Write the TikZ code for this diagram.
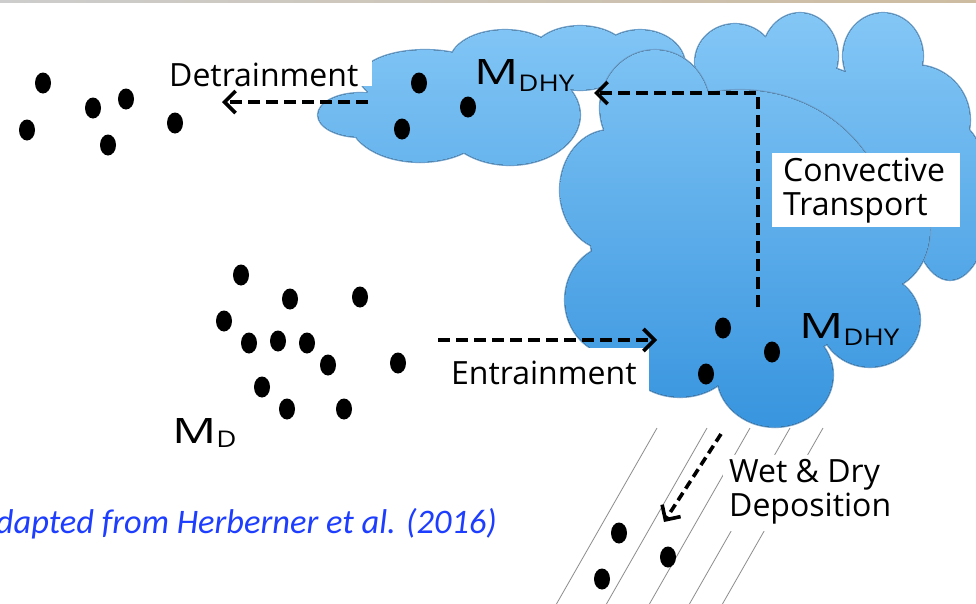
\documentclass[tikz,border=0pt]{standalone}
\usepackage{fontspec}
\setmainfont{Open Sans}
\newfontfamily\capfont{Carlito}
\usetikzlibrary{arrows.meta}

\definecolor{cloudtop}{RGB}{132,199,246}
\definecolor{cloudbot}{RGB}{55,148,222}
\definecolor{cloudline}{RGB}{110,160,205}
\definecolor{raingray}{RGB}{140,140,140}
\definecolor{capblue}{RGB}{30,62,255}

% mass symbol with a lowered subscript
\newcommand\masslabel[2]{{\fontsize{35}{35}\selectfont\scalebox{1.4}[1]{M}}\raisebox{-#1}{\fontsize{23}{23}\selectfont\scalebox{1.2}[1]{#2}}}

\tikzset{
  backcloud/.style={insert path={
    (360,115) ellipse [x radius=42pt, y radius=22pt]
    (420,120) ellipse [x radius=70pt, y radius=42pt]
    (510,115) ellipse [x radius=70pt, y radius=50pt]
    (425,78)  ellipse [x radius=65pt, y radius=28pt]
    (505,62)  ellipse [x radius=55pt, y radius=32pt]
    (580,58)  ellipse [x radius=50pt, y radius=32pt]
    (640,65)  ellipse [x radius=45pt, y radius=35pt]
    (735,62)  ellipse [x radius=40pt, y radius=38pt]
    (800,56)  ellipse [x radius=38pt, y radius=43pt]
    (883,56)  ellipse [x radius=40pt, y radius=43pt]
    (915,120) ellipse [x radius=55pt, y radius=55pt]
    (950,200) ellipse [x radius=40pt, y radius=80pt]
    (780,180) ellipse [x radius=150pt, y radius=120pt]
  }},
  frontcloud/.style={insert path={
    (655,108) ellipse [x radius=55pt, y radius=58pt]
    (610,190) ellipse [x radius=50pt, y radius=60pt]
    (615,300) ellipse [x radius=50pt, y radius=55pt]
    (680,355) ellipse [x radius=55pt, y radius=42pt]
    (775,375) ellipse [x radius=58pt, y radius=52pt]
    (870,320) ellipse [x radius=50pt, y radius=47pt]
    (880,230) ellipse [x radius=50pt, y radius=60pt]
    (740,230) ellipse [x radius=150pt, y radius=140pt]
  }},
  cloudedge/.style={draw=cloudline, line width=2.2pt},
  cloudbody/.style={path picture={
    \fill[top color=cloudtop, bottom color=cloudbot] (0,10) rectangle (976,432);}},
  lbl/.style={font=\fontsize{32}{34}\selectfont, inner sep=0pt, align=left},
  whitebox/.style={fill=white, draw=none, inner sep=0pt},
  flow/.style={line width=3.6pt, dash pattern=on 12pt off 6pt,
    -{Straight Barb[length=11pt, width=22pt]}},
  rain/.style={draw=raingray, line width=0.8pt},
}

\begin{document}
\begin{tikzpicture}[x=1pt, y=-1pt]
  \useasboundingbox (0,0) rectangle (976,603);
  \fill[white] (0,0) rectangle (976,603);
  % thin window strip along the top edge
  \shade[left color={rgb,255:red,205;green,205;blue,205},
         middle color={rgb,255:red,135;green,160;blue,195},
         right color={rgb,255:red,205;green,188;blue,160}] (0,0) rectangle (976,2.5);

  % rain streaks below the cloud
  \draw[rain] (657,428) -- (553,610);
  \draw[rain] (707,428) -- (603,610);
  \draw[rain] (750,428) -- (646,610);
  \draw[rain] (790,428) -- (686,610);
  \draw[rain] (823,428) -- (719,610);

  % anvil and tower of the cloud
  \path[cloudedge, backcloud];
  \path[cloudbody, backcloud];
  % convective core in front
  \path[cloudedge, frontcloud];
  \path[cloudbody, frontcloud];

  % aerosol particles: free troposphere (left, top)
  \foreach \px/\py in {43/83, 27/130, 93/108, 126/99, 108/145, 175/123}
    \fill (\px,\py) ellipse [x radius=8pt, y radius=10.5pt];
  % aerosol particles: boundary layer
  \foreach \px/\py in {241/275, 290/299, 360/297, 224/321, 249/343, 278/341,
                       307/343, 328/365, 398/363, 262/387, 287/409, 344/409}
    \fill (\px,\py) ellipse [x radius=8pt, y radius=10.5pt];
  % particles inside the anvil
  \foreach \px/\py in {419/83, 468/107, 402/129}
    \fill (\px,\py) ellipse [x radius=8pt, y radius=10.5pt];
  % particles inside the core
  \foreach \px/\py in {723/328, 772/352, 706/374}
    \fill (\px,\py) ellipse [x radius=8pt, y radius=10.5pt];
  % particles being deposited
  \foreach \px/\py in {619/533, 668/557, 602/579}
    \fill (\px,\py) ellipse [x radius=8pt, y radius=10.5pt];

  % label boxes
  \node[whitebox, minimum width=212pt, minimum height=36pt, anchor=north west] (debox) at (160,50) {};
  \node[whitebox, minimum width=209pt, minimum height=48pt, anchor=north west] (enbox) at (440,348) {};
  \node[whitebox, minimum width=188pt, minimum height=74pt, anchor=north west] (cvbox) at (772,153) {};
  \node[whitebox, minimum width=172pt, minimum height=76pt, anchor=north west] (wdbox) at (723,455) {};

  \node[lbl, anchor=west] (detxt) at (169,75) {Detrainment};
  \node[lbl, anchor=west] (entxt) at (451,373) {Entrainment};
  \node[lbl, anchor=west] (cvtxt) at (783,191) {Convective\\Transport};
  \node[lbl, anchor=west] (wdtxt) at (729,492) {Wet \& Dry\\Deposition};

  % mass labels
  \node[inner sep=0pt, anchor=base west] (mup) at (474,84) {\masslabel{7pt}{DHY}};
  \node[inner sep=0pt, anchor=base west] (mlow) at (799,338) {\masslabel{7pt}{DHY}};
  \node[inner sep=0pt, anchor=base west] (md) at (172,443) {\masslabel{4pt}{D}};

  % transport pathways
  \coordinate (deA) at (368,102);  \coordinate (deB) at (222,102);
  \coordinate (enA) at (438,340);  \coordinate (enB) at (657,340);
  \coordinate (cvA) at (758,307);  \coordinate (cvK) at (758,93);
  \coordinate (cvB) at (594,93);
  \coordinate (wdA) at (721,434);  \coordinate (wdB) at (664,522);
  \draw[flow] (deA) -- (deB);
  \draw[flow] (enA) -- (enB);
  \draw[flow] (cvA) -- (cvK) -- (cvB);
  \draw[flow, dash pattern=on 9pt off 5pt] (wdA) -- (wdB);

  % source note
  \node[font=\capfont\itshape\fontsize{34.4}{40}\selectfont, text=capblue,
        inner sep=0pt, anchor=base east] (src) at (497,533)
        {Adapted from Herberner et al. (2016)};
\end{tikzpicture}
\end{document}
